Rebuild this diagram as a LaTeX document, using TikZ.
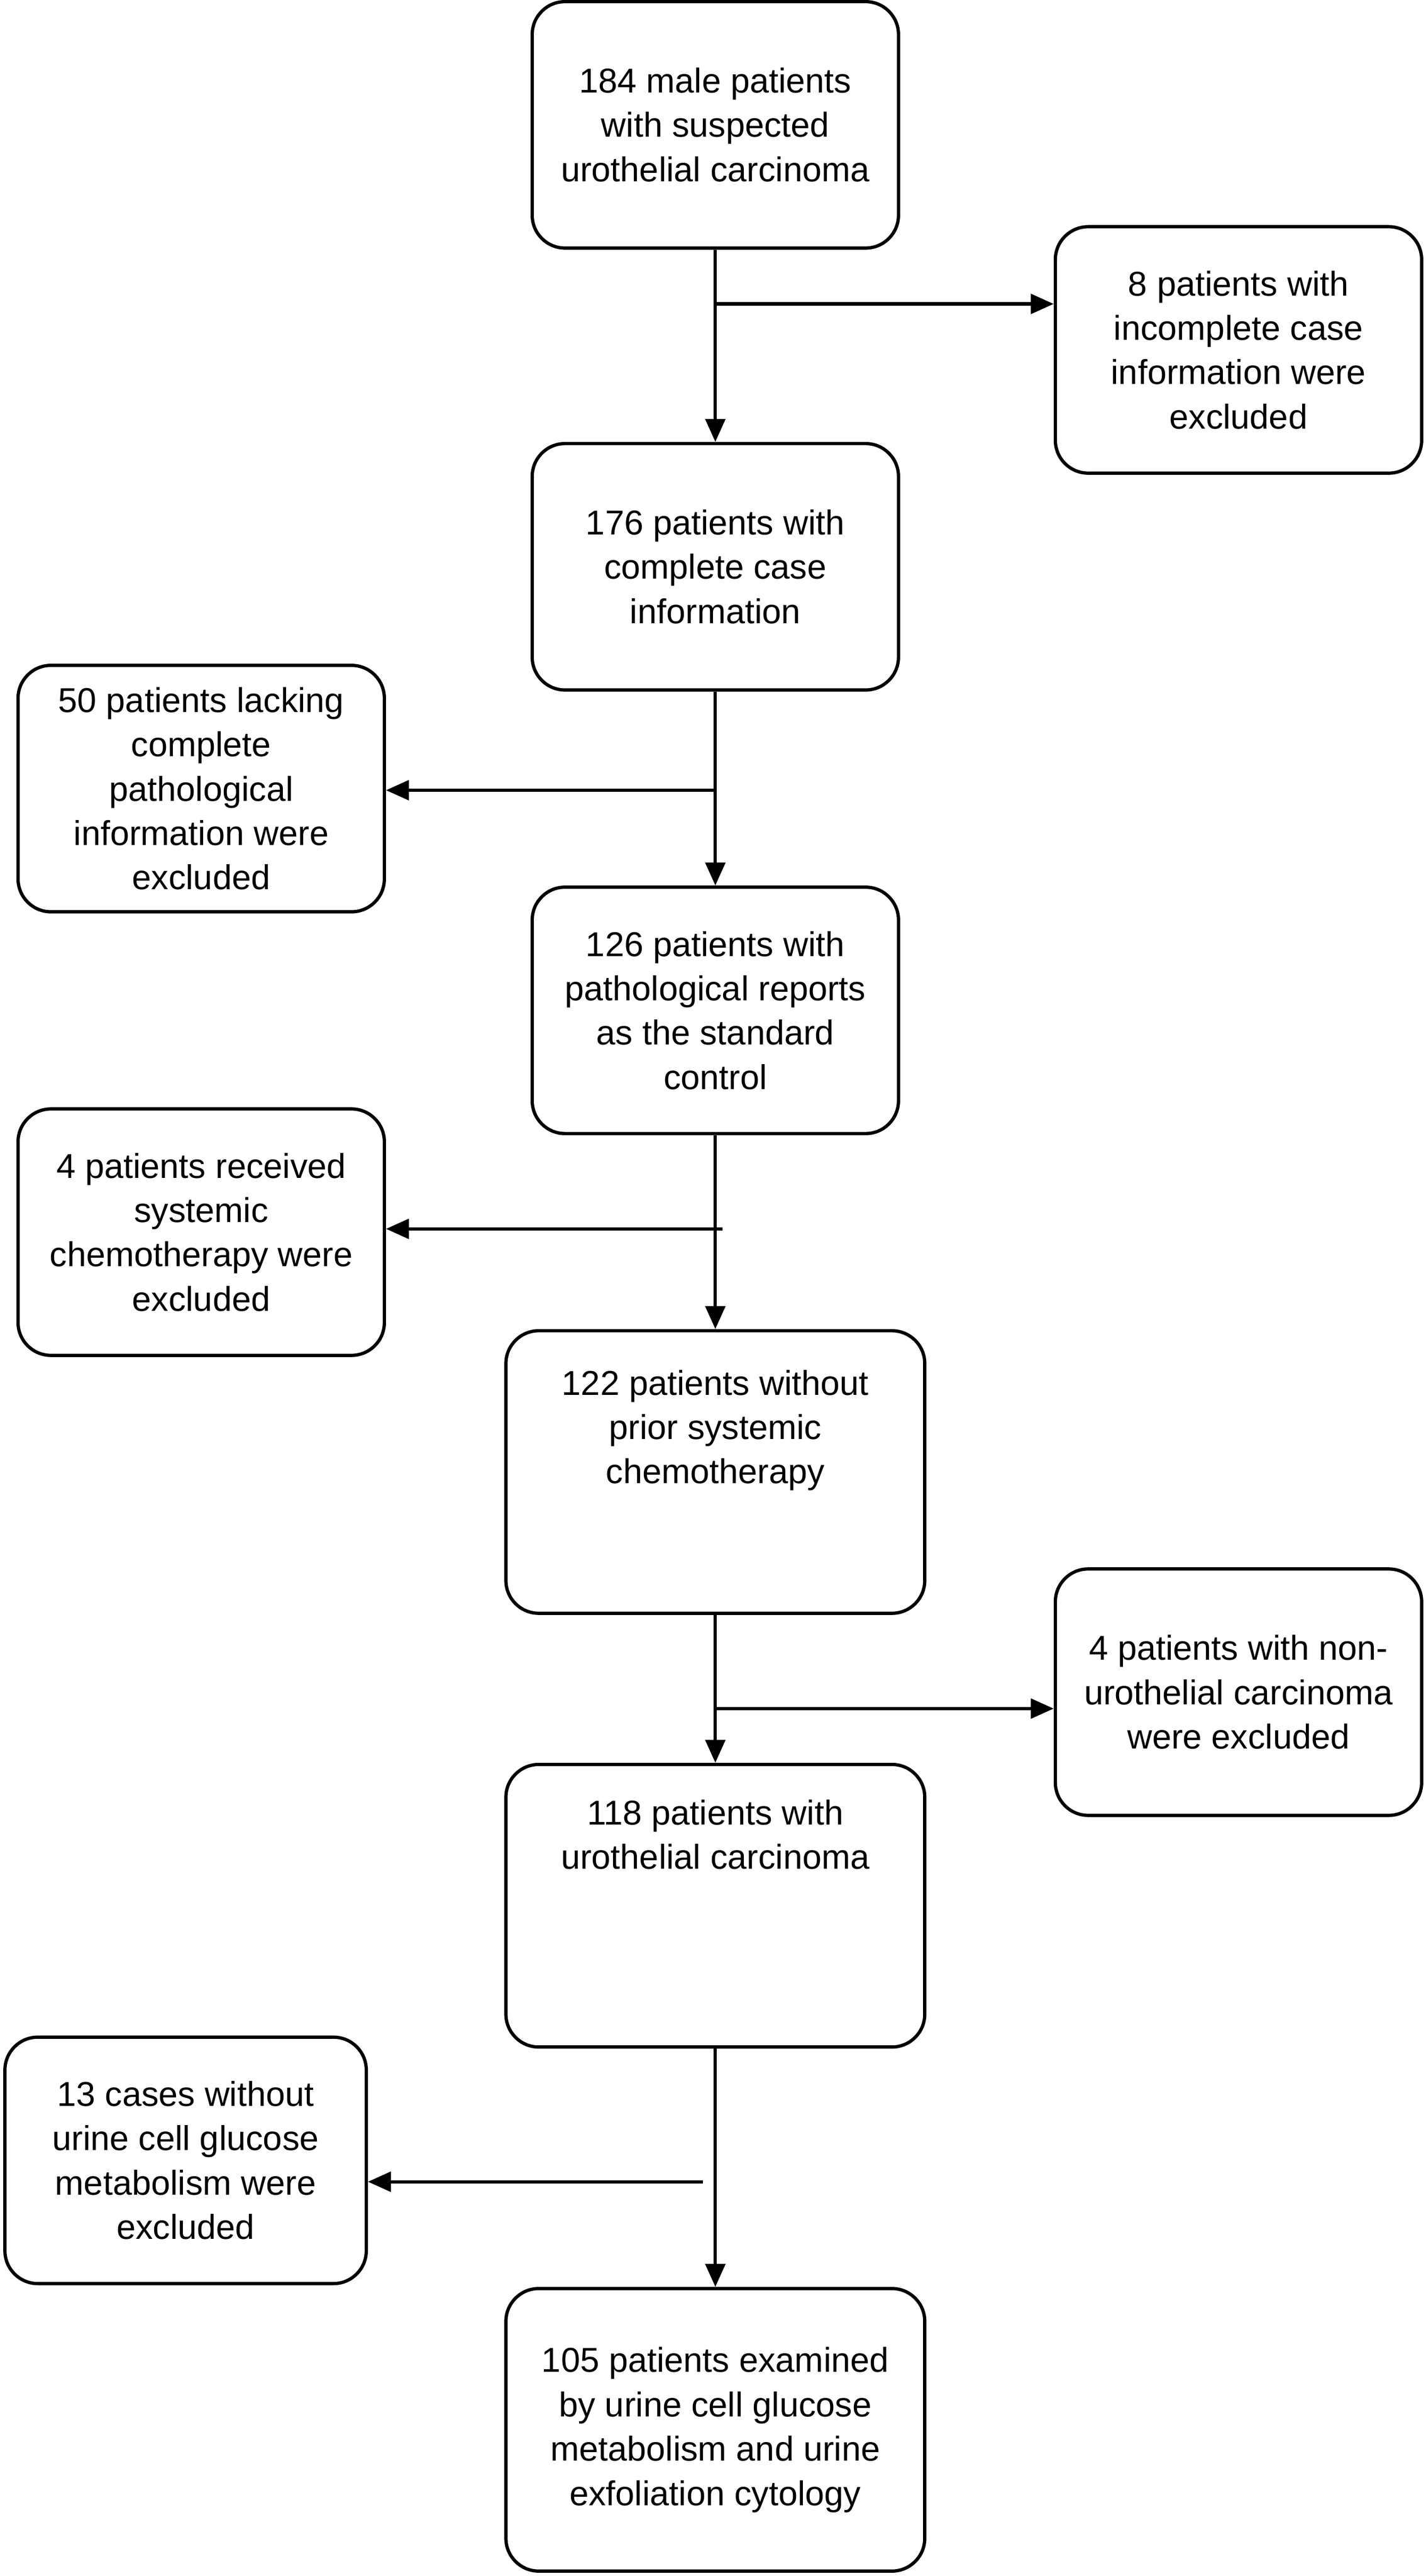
\documentclass[tikz,border=0pt]{standalone}
\usepackage{fontspec}
\setmainfont{Liberation Sans}
\usetikzlibrary{arrows.meta}

\begin{document}
\begin{tikzpicture}[x=0.5pt, y=-0.5pt,
    box/.style={draw, line width=1pt, rounded corners=10pt, align=center,
        minimum width=111.5pt, minimum height=75pt, inner sep=2pt,
        font=\fontsize{10.5}{13.5}\selectfont},
    wide/.style={box, minimum width=127.5pt, minimum height=86pt},
    flow/.style={line width=1pt, -{Triangle[length=7pt,width=6pt]}}]

        % page frame
        \useasboundingbox (0,0) rectangle (868,1568);

        % main column
        \node[box] (n184) at (435.5,76) {184 male patients\\with suspected\\urothelial carcinoma};
        \node[box] (n176) at (435.5,345) {176 patients with\\complete case\\information};
        \node[box] (n126) at (435.5,615) {126 patients with\\pathological reports\\as the standard\\control};
        \node[wide] (n122) at (435.5,896) {122 patients without\\prior systemic\\chemotherapy\\[14pt]};
        \node[wide] (n118) at (435.5,1160) {118 patients with\\urothelial carcinoma\\[30pt]};
        \node[wide] (n105) at (435.5,1479) {105 patients examined\\by urine cell glucose\\metabolism and urine\\exfoliation cytology};

        % excluded boxes
        \node[box] (ex8) at (754,213) {8 patients with\\incomplete case\\information were\\excluded};
        \node[box] (ex50) at (122.5,480) {50 patients lacking\\complete\\pathological\\information were\\excluded};
        \node[box] (ex4a) at (122.5,750) {4 patients received\\systemic\\chemotherapy were\\excluded};
        \node[box] (ex4b) at (754,1030) {4 patients with non-\\urothelial carcinoma\\were excluded};
        \node[box, minimum width=110pt] (ex13) at (113,1315) {13 cases without\\urine cell glucose\\metabolism were\\excluded};

        % branch points
        \coordinate (b1) at (435.5,185);
        \coordinate (b2) at (435.5,481);
        \coordinate (b3) at (440,748);
        \coordinate (b4) at (435.5,1040);
        \coordinate (b5) at (428,1328);

        \draw[flow] (n184) -- (n176);
        \draw[flow] (n176) -- (n126);
        \draw[flow] (n126) -- (n122);
        \draw[flow] (n122) -- (n118);
        \draw[flow] (n118) -- (n105);

        \draw[flow] (b1) -- (b1 -| ex8.west);
        \draw[flow] (b2) -- (b2 -| ex50.east);
        \draw[flow] (b3) -- (b3 -| ex4a.east);
        \draw[flow] (b4) -- (b4 -| ex4b.west);
        \draw[flow] (b5) -- (b5 -| ex13.east);

\end{tikzpicture}
\end{document}
